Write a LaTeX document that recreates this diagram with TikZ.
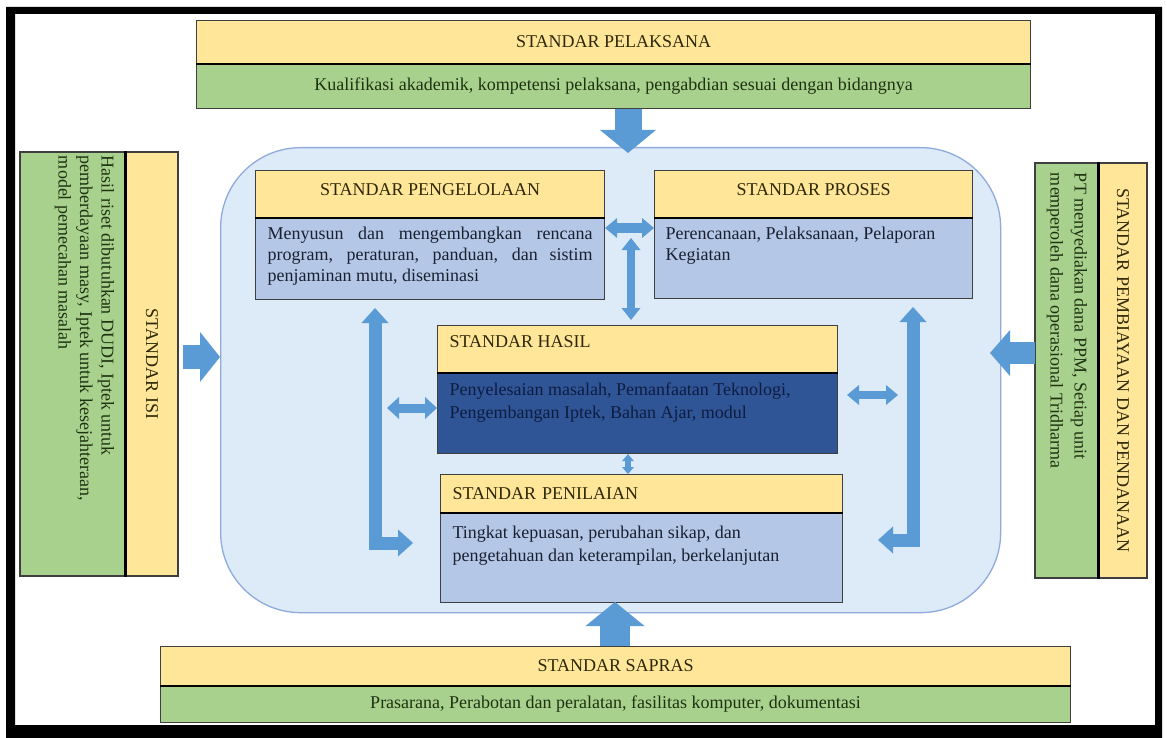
\documentclass[tikz,border=0pt]{standalone}
\usepackage{fontspec}
\setmainfont{Liberation Serif}
\usetikzlibrary{arrows.meta}
\definecolor{hyel}{HTML}{FFE699}
\definecolor{hgrn}{HTML}{A9D18E}
\definecolor{hlbl}{HTML}{B4C7E7}
\definecolor{hdbl}{HTML}{2F5597}
\definecolor{hcore}{HTML}{DDEAF7}
\definecolor{hcoreb}{HTML}{8FAADC}
\definecolor{harr}{HTML}{5B9BD5}
\definecolor{hedge}{HTML}{3F3F3F}
\definecolor{thead}{HTML}{2E2808}
\definecolor{tgrn}{HTML}{1E3212}
\definecolor{tbody}{HTML}{1A2030}
\definecolor{tdark}{HTML}{0F1C40}
\newcommand{\btxt}[4]{\parbox[c][#2][t]{#1}{\vspace*{#3}#4}}
\begin{document}
\begin{tikzpicture}[x=1pt,y=-1pt,
  every node/.style={inner sep=0pt,line width=1.1pt,draw=hedge},
  fs/.style={font=\fontsize{18}{21}\selectfont},
  hd/.style={fs,fill=hyel,text=thead},
  gr/.style={fs,fill=hgrn,text=tgrn},
  lb/.style={fs,fill=hlbl,text=tbody},
  db/.style={fs,fill=hdbl,text=tdark},
  nw/.style={anchor=north west},
  sz/.style 2 args={minimum width=#1,minimum height=#2},
  divl/.style={line width=2.2pt,draw=black},
  barr/.style n args={3}{draw=harr,line width=#1,-{Triangle[width=#2,length=#3,line width=0pt]}},
  dbarr/.style n args={3}{draw=harr,line width=#1,line join=miter,{Triangle[width=#2,length=#3,line width=0pt]}-{Triangle[width=#2,length=#3,line width=0pt]}}
]
\useasboundingbox (0,0) rectangle (1167,738);
\fill[white] (0,0) rectangle (1167,738);
\fill[black,even odd rule] (6,7) rectangle (1162,738) (15,14) rectangle (1155,725);

% top
\node[hd,nw,sz={834pt}{43pt}] (pelH) at (196,20) {STANDAR PELAKSANA};
\node[gr,nw,sz={834pt}{45pt}] (pelG) at (196,63) {Kualifikasi akademik, kompetensi pelaksana, pengabdian sesuai dengan bidangnya};
\draw[divl] (pelH.south west) -- (pelH.south east);

% left
\node[hd,rotate=-90,sz={424pt}{52pt}] (isiH) at (152,364) {STANDAR ISI};
\node[gr,rotate=-90,sz={424pt}{106pt}] (isiG) at (73,364) {\btxt{416pt}{106pt}{12pt}{\fontsize{18}{21.5}\selectfont Hasil riset dibutuhkan DUDI, Iptek untuk\\pemberdayaan masy, Iptek untuk kesejahteraan,\\model pemecahan masalah}};
\draw[divl] (isiH.south west) -- (isiH.south east);

% right
\node[gr,rotate=-90,sz={415pt}{64pt}] (rG) at (1067,370.5) {\btxt{395pt}{64pt}{12pt}{\fontsize{18}{24}\selectfont PT menyediakan dana PPM, Setiap unit\\memperoleh dana operasional Tridharma}};
\node[hd,rotate=-90,sz={415pt}{48pt}] (rH) at (1123,370.5) {STANDAR PEMBIAYAAN DAN PENDANAAN};
\draw[divl] (rH.south west) -- (rH.south east);

% core
\node[draw=hcoreb,line width=1.3pt,fill=hcore,rounded corners=80pt,nw,sz={780pt}{465pt}] (core) at (220,147) {};

\node[hd,nw,sz={349pt}{47pt},text depth=10pt] (pengH) at (255,170) {STANDAR PENGELOLAAN};
\node[lb,nw,sz={349pt}{82pt}] (pengB) at (255,217) {\btxt{325pt}{82pt}{9pt}{\makebox[325pt][s]{Menyusun dan mengembangkan rencana}\\\makebox[325pt][s]{program, peraturan, panduan, dan sistim}\\penjaminan mutu, diseminasi}};
\draw[divl] (pengH.south west) -- (pengH.south east);

\node[hd,nw,sz={318pt}{47pt},text depth=10pt] (prosH) at (654,170) {STANDAR PROSES};
\node[lb,nw,sz={318pt}{81pt}] (prosB) at (654,217) {\btxt{296pt}{81pt}{9pt}{\raggedright Perencanaan, Pelaksanaan, Pelaporan\\Kegiatan}};
\draw[divl] (prosH.south west) -- (prosH.south east);

\node[hd,nw,sz={400pt}{47pt}] (hasH) at (437,325) {\btxt{376pt}{47pt}{10pt}{STANDAR HASIL}};
\node[db,nw,sz={400pt}{81pt}] (hasB) at (437,372) {\btxt{376pt}{81pt}{10pt}{\fontsize{18}{23}\selectfont Penyelesaian masalah, Pemanfaatan Teknologi,\\Pengembangan Iptek, Bahan Ajar, modul}};
\draw[divl] (hasH.south west) -- (hasH.south east);

\node[hd,nw,sz={402pt}{38pt},text width=378pt,align=left] (penH) at (440,474) {STANDAR PENILAIAN};
\node[lb,nw,sz={402pt}{90pt}] (penB) at (440,512) {\btxt{378pt}{90pt}{13pt}{\fontsize{18}{23}\selectfont Tingkat kepuasan, perubahan sikap, dan\\pengetahuan dan keterampilan, berkelanjutan}};
\draw[divl] (penH.south west) -- (penH.south east);

% bottom
\node[hd,nw,sz={910pt}{39pt}] (sapH) at (160,646) {STANDAR SAPRAS};
\node[gr,nw,sz={910pt}{37pt}] (sapG) at (160,685) {Prasarana, Perabotan dan peralatan, fasilitas komputer, dokumentasi};
\draw[divl] (sapH.south west) -- (sapH.south east);

% coordinates
\coordinate (aTop) at (628,153);
\coordinate (aLs) at (183,357);
\coordinate (aRs) at (1035,353);
\coordinate (aRe) at (990,353);
\coordinate (aBot) at (615,602);
\coordinate (aH1) at (629,228);
\coordinate (aV1s) at (631,238);
\coordinate (aV1e) at (631,320);
\coordinate (lTop) at (375,308);
\coordinate (lEnd) at (413,543);
\coordinate (rTop) at (913,307);
\coordinate (rEnd) at (878,540);
\coordinate (hL) at (387,408);
\coordinate (hRs) at (847,395);
\coordinate (hRe) at (898,395);
\coordinate (sV) at (628,0);

% big arrows
\draw[barr={27pt}{56pt}{23pt}] (pelG.south -| aTop) -- (aTop);
\draw[barr={24pt}{50pt}{20pt}] (aLs) -- (core.west |- aLs);
\draw[barr={22pt}{46pt}{20pt}] (aRs) -- (aRe);
\draw[barr={30pt}{59pt}{24pt}] (sapH.north -| aBot) -- (aBot);

% inner arrows
\draw[dbarr={9pt}{20pt}{12pt}] (pengB.east |- aH1) -- (prosB.west |- aH1);
\draw[dbarr={8pt}{19pt}{12pt}] (aV1s) -- (aV1e);
\draw[dbarr={13pt}{27pt}{15pt}] (lTop) |- (lEnd);
\draw[dbarr={13pt}{27pt}{15pt}] (rTop) |- (rEnd);
\draw[dbarr={9pt}{22pt}{12pt}] (hL) -- (hasB.west |- hL);
\draw[dbarr={8pt}{20pt}{12pt}] (hRs) -- (hRe);
\draw[dbarr={6pt}{12pt}{7pt}] (hasB.south -| sV) -- (penH.north -| sV);
\end{tikzpicture}
\end{document}
